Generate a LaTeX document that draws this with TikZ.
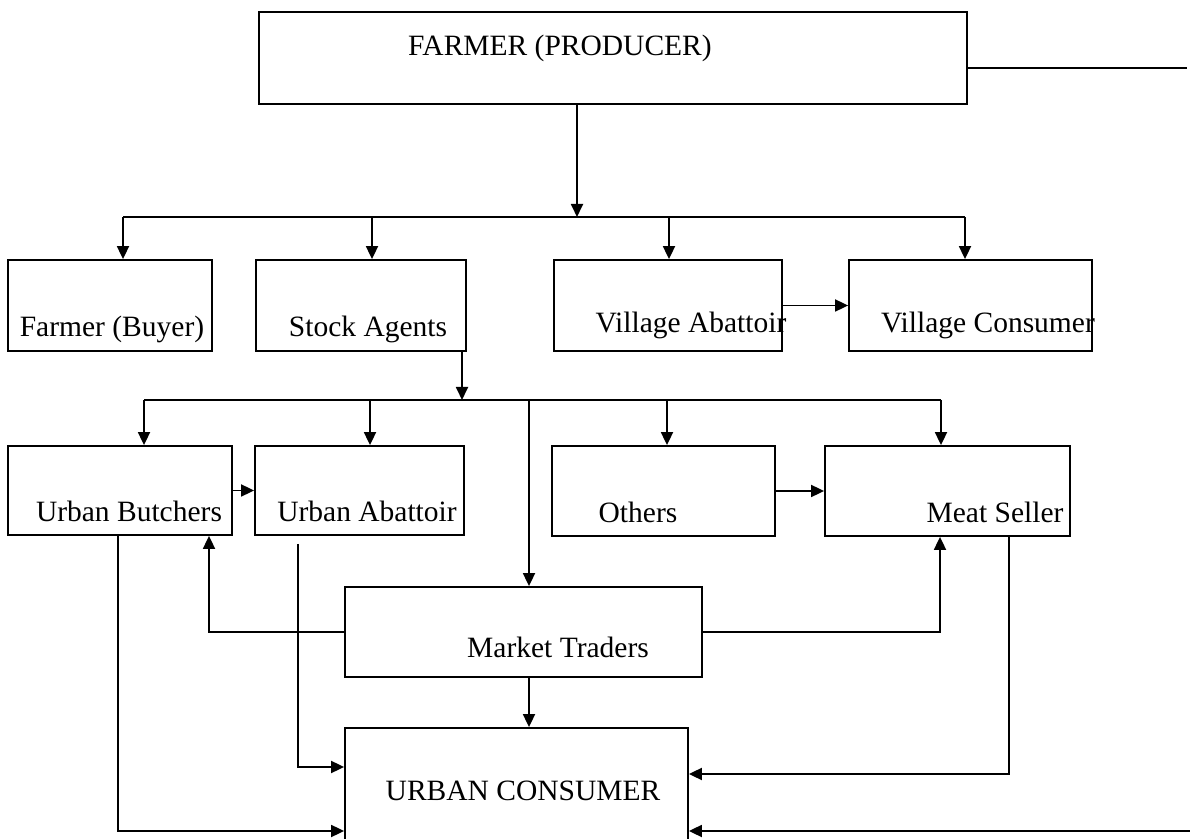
\documentclass[tikz,border=0pt]{standalone}
\usepackage{fontspec}
\setmainfont{Liberation Serif}
\usetikzlibrary{arrows.meta,fit}
\begin{document}
\begin{tikzpicture}[x=0.5pt,y=-0.5pt,>={Triangle[length=6.5pt,width=6pt]},line width=0.9pt,
	font=\fontsize{14.75}{17}\selectfont,
	box/.style={draw,inner sep=0pt,fit={#1}},
	txt/.style={anchor=base,inner sep=0pt}]
	\def\busA{217} \def\busB{400} % hoehe der verteiler
	\useasboundingbox (0,0) rectangle (1190,839);
	% kaesten
	\node[box={(259,12) (967,104)}] (fp) {};
	\node[box={(8,260) (212,351)}] (fbuy) {};
	\node[box={(256,260) (466,351)}] (sa) {};
	\node[box={(554,260) (782,351)}] (va) {};
	\node[box={(849,260) (1092,351)}] (vc) {};
	\node[box={(8,446) (232,535)}] (ub) {};
	\node[box={(255,446) (464,535)}] (ua) {};
	\node[box={(552,446) (775,536)}] (oth) {};
	\node[box={(825,446) (1070,536)}] (ms) {};
	\node[box={(345,587) (702,677)}] (mt) {};
	\node[box={(345,728) (688,843)}] (uc) {};
	% texte
	\node[txt] (tfp) at (560,56) {FARMER (PRODUCER)};
	\node[txt] (tfbuy) at (112,337) {Farmer (Buyer)};
	\node[txt] (tsa) at (368,337) {Stock Agents};
	\node[txt] (tva) at (691,333) {Village Abattoir};
	\node[txt] (tvc) at (988,333) {Village Consumer};
	\node[txt] (tub) at (129,522) {Urban Butchers};
	\node[txt] (tua) at (367,522) {Urban Abattoir};
	\node[txt] (toth) at (638,523) {Others};
	\node[txt] (tms) at (995,523) {Meat Seller};
	\node[txt] (tmt) at (558,658) {Market Traders};
	\node[txt] (tuc) at (523,800) {URBAN CONSUMER};
	% erste stufe
	\coordinate (j1) at (577,\busA);
	\draw[->] (fp.south -| j1) -- (j1);
	\foreach \n/\x in {fbuy/123,sa/372,va/669,vc/965}{
		\coordinate (d\n) at (\x,\busA);
		\draw[->] (d\n) -- (d\n |- \n.north);}
	\draw (dfbuy) -- (dvc);
	\draw[->] (va) -- (vc);
	% zweite stufe
	\coordinate (j2) at (462,\busB);
	\draw[->] (sa.south -| j2) -- (j2);
	\foreach \n/\x in {ub/144,ua/370,oth/667,ms/941,mt/529}{
		\coordinate (d\n) at (\x,\busB);
		\draw[->] (d\n) -- (d\n |- \n.north);}
	\draw (dub) -- (dms);
	\draw[->] (ub) -- (ua);
	\draw[->] (oth) -- (ms);
	% market traders
	\coordinate (k1) at (209,632);
	\coordinate (k2) at (940,632);
	\coordinate (k3) at (529,700);
	\draw[->] (mt.west |- k1) -- (k1) -- (k1 |- ub.south);
	\draw[->] (mt.east |- k2) -- (k2) -- (k2 |- ms.south);
	\draw[->] (k3 |- mt.south) -- (k3 |- uc.north);
	% zum urban consumer
	\coordinate (k4) at (118,831);
	\coordinate (k5) at (298,767);
	\coordinate (k6) at (1009,774);
	\coordinate (k7) at (1190,831);
	\coordinate (k8) at (1187,68);
	\draw[->] (k4 |- ub.south) -- (k4) -- (k4 -| uc.west);
	\draw[->,shorten <=4pt] (k5 |- ua.south) -- (k5) -- (k5 -| uc.west);
	\draw[->] (k6 |- ms.south) -- (k6) -- (k6 -| uc.east);
	\draw[->] (k7) -- (k7 -| uc.east);
	\draw (fp.east |- k8) -- (k8);
\end{tikzpicture}
\end{document}
